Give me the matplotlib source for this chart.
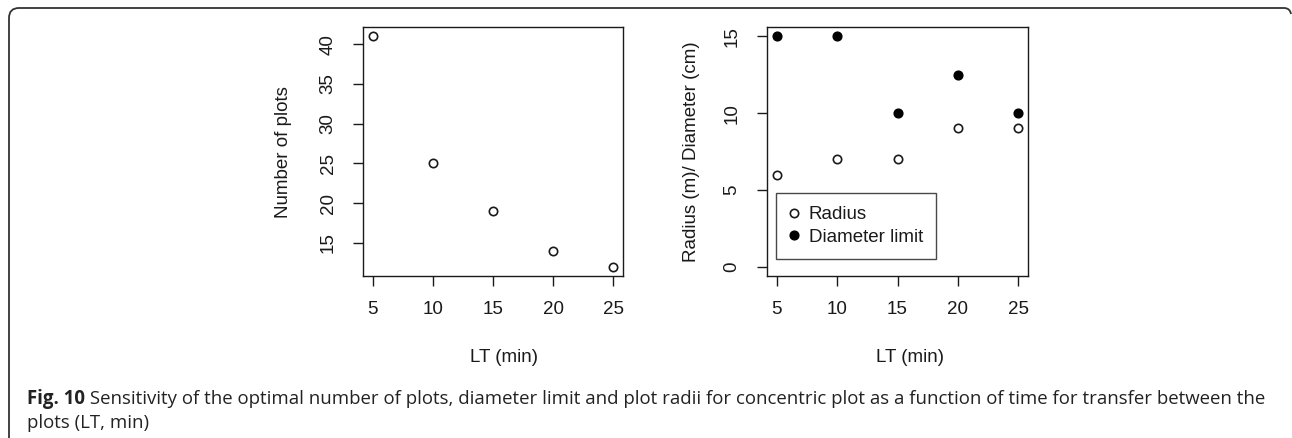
import matplotlib
matplotlib.use("Agg")
import matplotlib.pyplot as plt
from matplotlib.path import Path
from matplotlib.patches import PathPatch

# ---- data ----
lt = [5, 10, 15, 20, 25]
n_plots = [41, 25, 19, 14, 12]
radius = [6, 7, 7, 9, 9]
diam_limit = [15, 15, 10, 12.5, 10]
x_ticks = [5, 10, 15, 20, 25]
left_yticks = [15, 20, 25, 30, 35, 40]
right_yticks = [0, 5, 10, 15]
caption_bold = "Fig. 10"
caption_line1 = (" Sensitivity of the optimal number of plots, diameter limit and plot radii "
                 "for concentric plot as a function of time for transfer between the")
caption_line2 = "plots (LT, min)"

W, H = 1292, 438
fig = plt.figure(figsize=(W / 100, H / 100), dpi=100)
fig.patch.set_facecolor("white")

FS = 13.5
FONT = ["Liberation Sans", "DejaVu Sans"]
INK = "#1a1a1a"


def px_rect(x0, y0, x1, y1):
    return [x0 / W, 1 - y1 / H, (x1 - x0) / W, (y1 - y0) / H]


def style_axes(ax, yticks):
    for s in ax.spines.values():
        s.set_linewidth(1.0)
        s.set_color(INK)
    ax.set_xticks(x_ticks)
    ax.set_yticks(yticks)
    ax.tick_params(direction="out", length=7, width=1.0, color=INK,
                   labelsize=FS, labelcolor=INK)
    ax.tick_params(axis="x", pad=11)
    ax.tick_params(axis="y", pad=12)
    for lab in ax.get_yticklabels():
        lab.set_rotation(90)
        lab.set_va("center")
        lab.set_family(FONT)
    for lab in ax.get_xticklabels():
        lab.set_family(FONT)


# ---- left panel ----
ax1 = fig.add_axes(px_rect(363, 27, 623, 276))
ax1.plot(lt, n_plots, linestyle="none", marker="o", markersize=6,
         markerfacecolor="white", markeredgecolor=INK, markeredgewidth=1.2)
ax1.set_xlim(4.2, 25.8)
ax1.set_ylim(10.84, 42.16)
style_axes(ax1, left_yticks)

# ---- right panel ----
ax2 = fig.add_axes(px_rect(767, 27, 1028, 276))
ax2.plot(lt, radius, linestyle="none", marker="o", markersize=6,
         markerfacecolor="white", markeredgecolor=INK, markeredgewidth=1.2,
         label="Radius")
ax2.plot(lt, diam_limit, linestyle="none", marker="o", markersize=6.3,
         markerfacecolor="black", markeredgecolor="black", markeredgewidth=1.0,
         label="Diameter limit")
ax2.set_xlim(4.2, 25.8)
ax2.set_ylim(-0.6, 15.6)
style_axes(ax2, right_yticks)

leg = ax2.legend(loc="lower left",
                 bbox_to_anchor=((776 - 767) / 261, (276 - 259) / 249),
                 borderaxespad=0, frameon=True, fancybox=False,
                 prop={"family": FONT, "size": FS}, handlelength=0.5,
                 handletextpad=0.55, labelspacing=0.3, borderpad=0.7)
leg.get_frame().set_edgecolor(INK)
leg.get_frame().set_linewidth(1.0)
for t in leg.get_texts():
    t.set_color(INK)

# ---- axis titles ----
fig.text(283 / W, 1 - 152 / H, "Number of plots", rotation=90, ha="center",
         va="center", fontsize=FS, family=FONT, color=INK)
fig.text(692 / W, 1 - 152 / H, "Radius (m)/ Diameter (cm)", rotation=90,
         ha="center", va="center", fontsize=FS, family=FONT, color=INK)
fig.text(504 / W, 1 - 357 / H, "LT (min)", ha="center", va="center",
         fontsize=FS, family=FONT, color=INK)
fig.text(910 / W, 1 - 357 / H, "LT (min)", ha="center", va="center",
         fontsize=FS, family=FONT, color=INK)

# ---- outer frame (rounded top corners) ----
r = 10
verts = [(9, H + 2), (9, 8 + r), (9, 8), (9 + r, 8), (W - 8, 8), (W - 2, 8), (W - 1, 14)]
codes = [Path.MOVETO, Path.LINETO, Path.CURVE3, Path.CURVE3, Path.LINETO,
         Path.CURVE3, Path.CURVE3]
verts_fig = [(x / W, 1 - y / H) for x, y in verts]
fig.add_artist(PathPatch(Path(verts_fig, codes), transform=fig.transFigure,
                         facecolor="none", edgecolor="#333333", linewidth=1.3))

# ---- caption ----
CAP_FONT = ["Open Sans", "DejaVu Sans"]
CFS = 13.4
tb = fig.text(27 / W, 1 - 399 / H, caption_bold, ha="left", va="center",
              fontsize=CFS, family=CAP_FONT, weight="bold", color="#222222")
fig.canvas.draw()
renderer = fig.canvas.get_renderer()
bb = tb.get_window_extent(renderer)
fig.text(bb.x1 / W, 1 - 399 / H, caption_line1, ha="left", va="center",
         fontsize=CFS, family=CAP_FONT, color="#222222")
fig.text(27 / W, 1 - 423 / H, caption_line2, ha="left", va="center",
         fontsize=CFS, family=CAP_FONT, color="#222222")

fig.savefig("out.png", dpi=100, facecolor="white")
